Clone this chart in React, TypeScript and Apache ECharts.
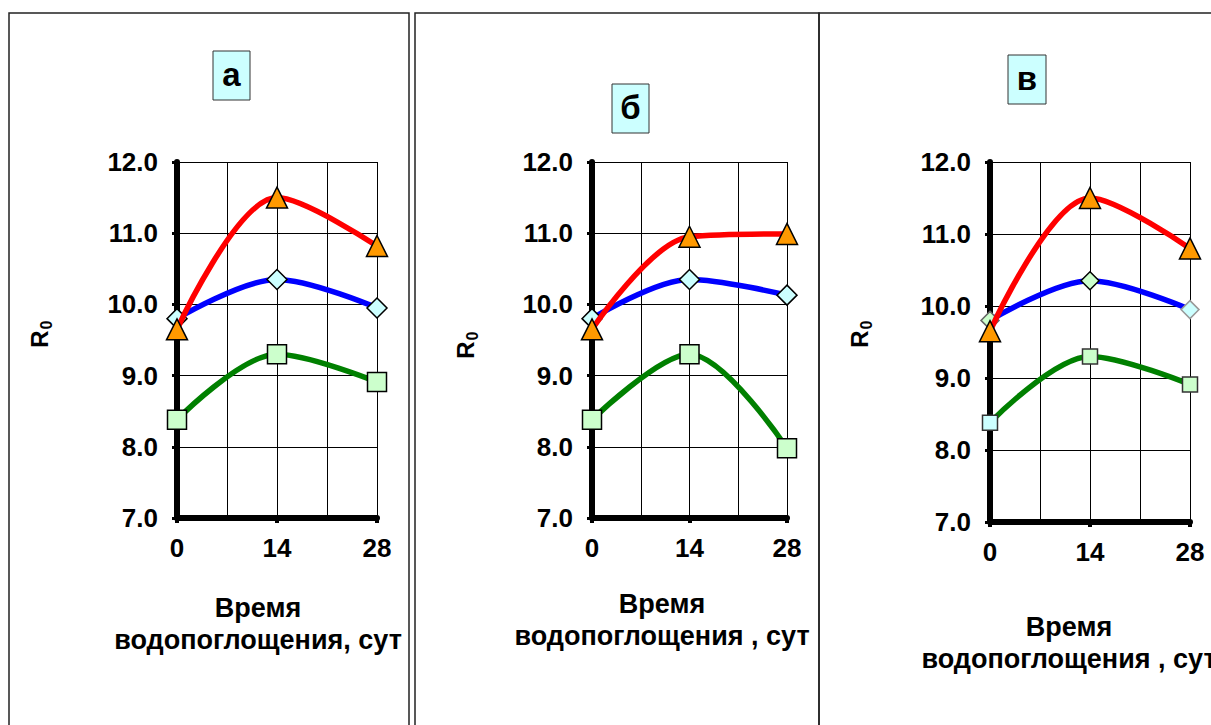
import React, { useEffect, useRef } from "react";
import * as echarts from "echarts";

// ---- data ----
const days = [0, 14, 28];
const yMin = 7;
const yMax = 12;
const panelLabels = ["а", "б", "в"];
const yAxisTitle = ["R", "0"];
const xTitles = [
  ["Время", "водопоглощения, сут"],
  ["Время", "водопоглощения , сут"],
  ["Время", "водопоглощения , сут"],
];

const redA = [9.65, 11.5, 10.82];
const blueA = [9.8, 10.35, 9.95];
const greenA = [8.38, 9.3, 8.91];

const redB = [9.65, 10.95, 10.99];
const blueB = [9.8, 10.35, 10.13];
const greenB = [8.38, 9.3, 7.98];

const redC = [9.65, 11.5, 10.8];
const blueC = [9.8, 10.35, 9.95];
const greenC = [8.38, 9.3, 8.91];

const FONT = '"Liberation Sans", Arial, sans-serif';

export default function App() {
  const ref = useRef<HTMLDivElement>(null);

  useEffect(() => {
    if (!ref.current) return;
    const chart = echarts.init(ref.current, null, { renderer: "svg" });

    const grids = [
      { left: 177, top: 162, width: 200, height: 356 },
      { left: 592, top: 162, width: 195, height: 356 },
      { left: 990, top: 162, width: 200, height: 360 },
    ];

    const xAxes = grids.map((_, i) => ({
      type: "value",
      gridIndex: i,
      min: 0,
      max: 28,
      interval: 14,
      axisLine: { show: true, lineStyle: { color: "#000", width: 6 } },
      axisTick: { show: true, length: 5, lineStyle: { color: "#000", width: 4 } },
      axisLabel: {
        margin: 17,
        color: "#000",
        fontFamily: FONT,
        fontWeight: "bold",
        fontSize: 26,
      },
      splitLine: { show: true, lineStyle: { color: "#000", width: 1 } },
      minorTick: { show: false, splitNumber: 2 },
      minorSplitLine: { show: true, lineStyle: { color: "#000", width: 1 } },
    }));

    const yAxes = grids.map((_, i) => ({
      type: "value",
      gridIndex: i,
      min: yMin,
      max: yMax,
      interval: 1,
      axisLine: { show: true, lineStyle: { color: "#000", width: 6 } },
      axisTick: { show: true, length: 5, lineStyle: { color: "#000", width: 3 } },
      axisLabel: {
        margin: 19,
        color: "#000",
        fontFamily: FONT,
        fontWeight: "bold",
        fontSize: 26,
        formatter: (v: number) => v.toFixed(1),
      },
      splitLine: { show: true, lineStyle: { color: "#000", width: 1 } },
    }));

    const lineSeries = (
      values: number[],
      gi: number,
      color: string,
      symbol: string,
      size: number,
      fills: string[],
      borders: string[],
      z: number
    ) => ({
      type: "line",
      xAxisIndex: gi,
      yAxisIndex: gi,
      smooth: 0.33,
      z,
      symbol,
      symbolSize: size,
      lineStyle: { color, width: 5.5 },
      itemStyle: { color, borderColor: "#000", borderWidth: 1.5 },
      data: values.map((v, k) => ({
        value: [days[k], v],
        itemStyle: { color: fills[k], borderColor: borders[k], borderWidth: 1.5 },
      })),
    });

    const tri = ["#ff9900", "#ff9900", "#ff9900"];
    const dia = ["#ccffff", "#ccffff", "#ccffff"];
    const sq = ["#ccffcc", "#ccffcc", "#ccffcc"];
    const blk = ["#000", "#000", "#000"];

    const series = [
      lineSeries(greenA, 0, "#008000", "rect", 19, sq, blk, 2),
      lineSeries(blueA, 0, "#0000ff", "diamond", 20, dia, blk, 3),
      lineSeries(redA, 0, "#ff0000", "triangle", 21, tri, blk, 4),
      lineSeries(greenB, 1, "#008000", "rect", 19, sq, blk, 2),
      lineSeries(blueB, 1, "#0000ff", "diamond", 20, dia, blk, 3),
      lineSeries(redB, 1, "#ff0000", "triangle", 21, tri, blk, 4),
      lineSeries(greenC, 2, "#008000", "rect", 15, ["#ccffff", "#ccffcc", "#ccffcc"], ["#333", "#333", "#333"], 2),
      lineSeries(blueC, 2, "#0000ff", "diamond", 18, ["#ccffcc", "#ccffcc", "#ccffff"], ["#666", "#000", "#999"], 3),
      lineSeries(redC, 2, "#ff0000", "triangle", 21, tri, blk, 4),
    ];

    const panels = [
      { x: 9, y: 13, w: 400, h: 740 },
      { x: 415, y: 13, w: 404, h: 740 },
      { x: 819, y: 13, w: 420, h: 740 },
    ];
    const boxes = [
      { x: 213, y: 51, w: 37, h: 49 },
      { x: 612, y: 84, w: 37, h: 49 },
      { x: 1008, y: 55, w: 38, h: 49 },
    ];
    const rPos = [
      { x: 39, y: 339 },
      { x: 465, y: 350 },
      { x: 859, y: 339 },
    ];
    const xt = [
      { x: 258, y: 624 },
      { x: 662, y: 620 },
      { x: 1069, y: 643 },
    ];

    const graphic: any[] = [];
    panels.forEach((p) =>
      graphic.push({
        type: "rect",
        shape: { x: p.x, y: p.y, width: p.w, height: p.h },
        style: { fill: "none", stroke: "#222", lineWidth: 1.5 },
        z: 0,
      })
    );
    boxes.forEach((b, i) => {
      graphic.push({
        type: "rect",
        shape: { x: b.x, y: b.y, width: b.w, height: b.h },
        style: { fill: "#ccffff", stroke: "#333", lineWidth: 1 },
        z: 10,
      });
      graphic.push({
        type: "text",
        x: b.x + b.w / 2,
        y: b.y + b.h / 2 - 1,
        style: {
          text: panelLabels[i],
          fill: "#000",
          font: `bold 33px ${FONT}`,
          align: "center",
          verticalAlign: "middle",
        },
        z: 11,
      });
    });
    rPos.forEach((r) => {
      graphic.push({
        type: "text",
        x: r.x,
        y: r.y,
        rotation: Math.PI / 2,
        style: {
          text: yAxisTitle[0],
          fill: "#000",
          font: `bold 24px ${FONT}`,
          align: "center",
          verticalAlign: "middle",
        },
        z: 10,
      });
      graphic.push({
        type: "text",
        x: r.x + 7,
        y: r.y - 14,
        rotation: Math.PI / 2,
        style: {
          text: yAxisTitle[1],
          fill: "#000",
          font: `bold 16px ${FONT}`,
          align: "center",
          verticalAlign: "middle",
        },
        z: 10,
      });
    });
    xt.forEach((t, i) =>
      graphic.push({
        type: "text",
        x: t.x,
        y: t.y,
        style: {
          text: xTitles[i].join("\n"),
          fill: "#000",
          font: `bold 27px ${FONT}`,
          align: "center",
          verticalAlign: "middle",
          lineHeight: 32,
        },
        z: 10,
      })
    );

    chart.setOption({
      animation: false,
      backgroundColor: "#fff",
      grid: grids,
      xAxis: xAxes,
      yAxis: yAxes,
      series,
      graphic,
    } as any);

    return () => chart.dispose();
  }, []);

  return (
    <div
      ref={ref}
      style={{ position: "absolute", left: 0, top: 0, width: 1211, height: 725 }}
    />
  );
}
